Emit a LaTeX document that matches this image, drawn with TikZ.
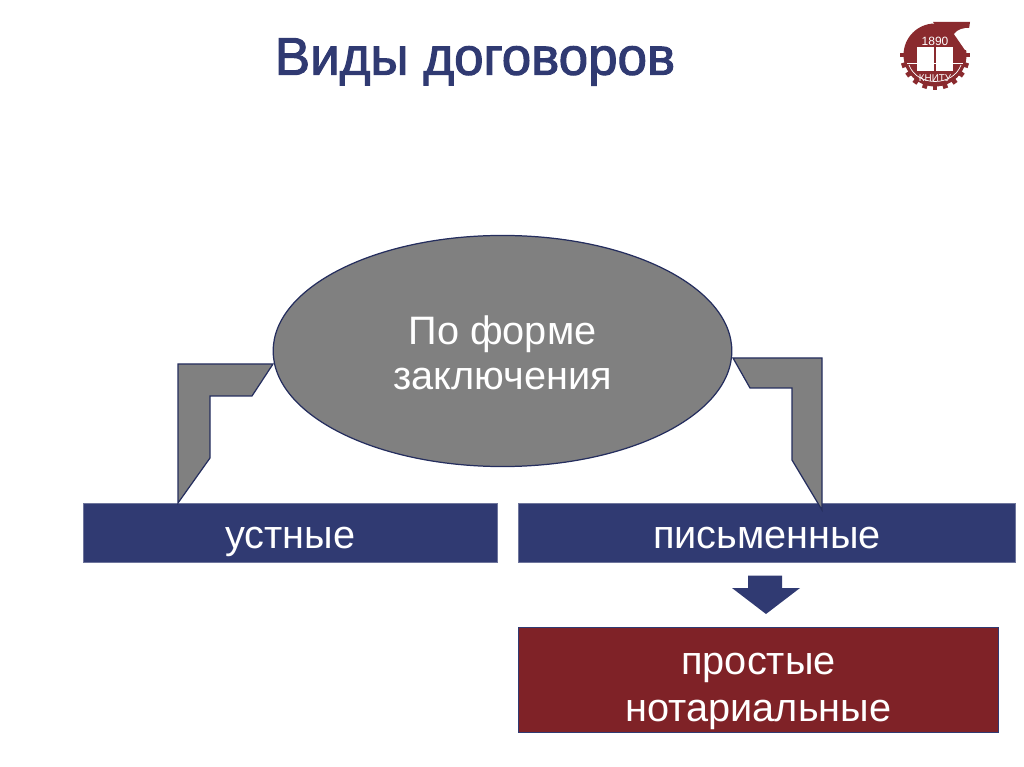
\documentclass[tikz,border=0pt]{standalone}
\usepackage{fontspec}
\setmainfont{Liberation Sans}
\newfontfamily\titlefont[FakeBold=2]{Liberation Sans}
\usetikzlibrary{calc, positioning, shapes.geometric}
\definecolor{navy}{HTML}{303A72}
\definecolor{edgeblue}{HTML}{252E5E}
\definecolor{darkred}{HTML}{7F2227}
\definecolor{greyfill}{HTML}{808080}
\definecolor{logored}{HTML}{8A2A2E}
\newcommand{\toppad}[1]{\rule{0pt}{#1}}
\begin{document}
\begin{tikzpicture}[x=0.5669pt, y=-0.5669pt,
    topic node/.style={draw=edgeblue, fill=greyfill, ellipse, line width=0.7pt, inner sep=0pt, minimum width=260pt, minimum height=131pt, align=center, text=white, font=\fontsize{22.5}{26}\selectfont},
    kind node/.style={draw=navy!70!white, fill=navy, line width=0.5pt, inner sep=0pt, minimum height=33.5pt, text=white, text height=18pt, text depth=0pt, font=\fontsize{22.5}{26}\selectfont},
    bent arrow/.style={draw=edgeblue, fill=greyfill, line width=0.7pt, line join=miter}]
    \useasboundingbox (0,0) rectangle (1024,767);

    \node[text=navy, font=\titlefont\fontsize{30}{36}\selectfont] (title) at (475,62) {Виды договоров};

    \node[topic node] (form) at (502.5,351) {\toppad{26pt}По форме\\\strut заключения};
    \node[kind node, minimum width=235pt] (oral) at (290.5,532.5) {устные};
    \node[kind node, minimum width=282pt] (written) at (767,532.5) {письменные};
    \node[draw=navy, fill=darkred, line width=0.5pt, inner sep=0pt, minimum width=272.5pt, minimum height=59.5pt, align=center, text=white, font=\fontsize{22.5}{27}\selectfont] (types) at (758.5,680) {\toppad{25pt}простые\\нотариальные};

    % left and right bent connectors
    \coordinate (leftstart) at (273,364);
    \coordinate (leftend) at (178,503);
    \coordinate (rightstart) at (733,358);
    \coordinate (rightend) at (822,510);
    \draw[bent arrow] (leftstart) -- (178,364) -- (leftend) -- (210,458) -- (210,396) -- (252,396) -- cycle;
    \draw[bent arrow] (rightstart) -- (822,358) -- (rightend) -- (792,460) -- (792,388) -- (750,388) -- cycle;

    % block arrow
    \fill[navy] (748,575.5) -- (782,575.5) -- (782,588) -- (800,588) -- (766,614) -- (732,588) -- (748,588) -- cycle;

    % logo
    \begin{scope}[shift={(935,55)}]
        \foreach \a in {0,18,...,180}
            \fill[logored, rotate=-\a] (28,-2.4) rectangle (35,2.4);
        \fill[logored] (0,0) circle (31.5);
        \fill[logored] (-2,-33) -- (35,-33) -- (34,-26) -- (10,-18) -- cycle;
        \fill[white] (34,-27) .. controls (28,-27) and (23,-26) .. (19,-21) -- (30,-5) -- (40,-5) -- (40,-27) -- cycle;
        \fill[white] (-18,-8) rectangle (-0.8,16);
        \fill[white] (0.8,-8) rectangle (18,16);
        \draw[white, line width=0.4pt] (-28,8) -- (28,8);
        \draw[white, line width=0.4pt] (-26,10) .. controls (-18,32) and (18,32) .. (26,10);
        \node[text=white, inner sep=0pt, font=\fontsize{6.8}{7}\selectfont] (founded) at (0,-14) {1890};
        \node[text=white, inner sep=0pt, font=\fontsize{5.6}{6}\selectfont] (logotext) at (0,23) {КНИТУ};
    \end{scope}
\end{tikzpicture}
\end{document}
